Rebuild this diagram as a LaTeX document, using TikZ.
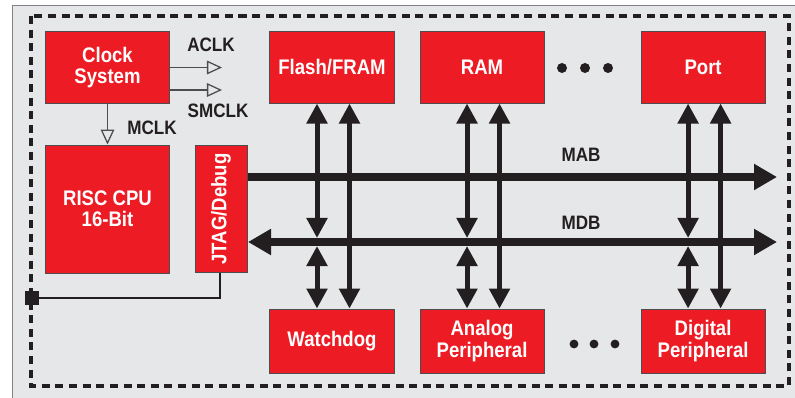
\documentclass[tikz,border=0pt]{standalone}
\usepackage{fontspec}
\setmainfont{Liberation Sans}[FakeStretch=0.88]
\usetikzlibrary{arrows.meta, calc}
\definecolor{boxred}{HTML}{ED1C24}
\definecolor{panel}{HTML}{E6E7E8}
\definecolor{ink}{HTML}{231F20}
\definecolor{edge}{HTML}{4D4D4F}
\definecolor{rim}{HTML}{808285}
\tikzstyle{block} = [rectangle, draw=edge, line width=0.7pt, fill=boxred, text=white, font=\bfseries\fontsize{15}{15}\selectfont, align=center, minimum width=3.1cm, minimum height=1.775cm, inner sep=0pt]
\tikzstyle{tag} = [text=ink, font=\bfseries\fontsize{13.8}{15}\selectfont, inner sep=0pt]
\tikzstyle{clk} = [draw=edge, line width=0.9pt, -{Triangle[open, length=0.375cm, width=0.34cm]}]
\tikzstyle{bus} = [draw=ink, line width=0.2cm, -{Triangle[length=0.575cm, width=0.62cm]}]
\tikzstyle{busboth} = [bus, {Triangle[length=0.575cm, width=0.62cm]}-{Triangle[length=0.575cm, width=0.62cm]}]
\tikzstyle{link} = [draw=ink, line width=0.125cm, {Triangle[length=0.5cm, width=0.5cm]}-{Triangle[length=0.5cm, width=0.5cm]}]

\begin{document}
\begin{tikzpicture}[x=0.025cm, y=-0.025cm, node distance=3.75cm]
  \useasboundingbox (0,0) rectangle (795,398);
  \fill [panel] (12,5) rectangle (795,398);
  \draw [rim, line width=0.6pt] (12,398) -- (12,5) -- (795,5);
  \draw [ink, line width=0.08cm, dash pattern=on 0.2cm off 0.14cm] (31,16) rectangle (789,386);

  \node (clock) [block] at (107.5,67.5) {Clock\\System};
  \node (risc) [block, below of = clock, yshift = 0.2125cm, minimum width=3.075cm, minimum height=3.2cm] {RISC CPU\\16-Bit};
  \node (jtag) [block, right of = risc, xshift = -0.9125cm, minimum width=1.3cm, minimum height=3.175cm] {\rotatebox{90}{JTAG/Debug}};
  \node (flash) [block] at (332,67.5) {Flash/FRAM};
  \node (ram) [block, right of = flash] {RAM};
  \node (port) [block, right of = ram, xshift = 1.775cm] {Port};
  \node (watchdog) [block, below of = flash, yshift = -3.0875cm, minimum height=1.6cm] {Watchdog};
  \node (analog) [block, below of = ram, yshift = -3.0875cm, minimum height=1.6cm] {Analog\\Peripheral};
  \node (digital) [block, below of = port, yshift = -3.0875cm, minimum height=1.6cm] {Digital\\Peripheral};

  \coordinate (aclk) at (222,67.5);
  \coordinate (smclk) at (222,90);
  \draw [clk] (clock.east |- aclk) -- (aclk);
  \draw [clk] (clock.east |- smclk) -- (smclk);
  \draw [clk] (clock.south) -- (clock.south |- risc.north);
  \node (aclktag) [tag] at (211,45) {ACLK};
  \node (smclktag) [tag] at (218,111) {SMCLK};
  \node (mclktag) [tag] at (152,128) {MCLK};

  \coordinate (mab) at (777,177);
  \coordinate (mdbl) at (248,242);
  \coordinate (mdbr) at (777,242);
  \draw [bus] (jtag.east |- mab) -- (mab);
  \draw [busboth] (mdbl) -- (mdbr);
  \node (mabtag) [tag] at (581,155) {MAB};
  \node (mdbtag) [tag] at (581,223) {MDB};

  \foreach \up/\down in {flash/watchdog, ram/analog, port/digital} {
    \path ([xshift=-0.375cm]\up.south) coordinate (a) ([xshift=0.4375cm]\up.south) coordinate (b);
    \draw [link, shorten >=0.1cm] (a) -- (a |- mdbr);
    \draw [link, shorten <=0.1cm] (a |- mdbr) -- (a |- \down.north);
    \draw [link] (b) -- (b |- \down.north);
  }

  \foreach \x in {562,585,608} \fill [ink] (\x,68) circle [radius=0.125cm];
  \foreach \x in {574,594,615} \fill [ink] (\x,344) circle [radius=0.11cm];

  \node (pin) [fill=ink, minimum size=0.35cm, inner sep=0pt] at (32,298) {};
  \draw [ink, line width=1.2pt] ([xshift=-0.025cm]jtag.south) |- (pin);
\end{tikzpicture}
\end{document}
